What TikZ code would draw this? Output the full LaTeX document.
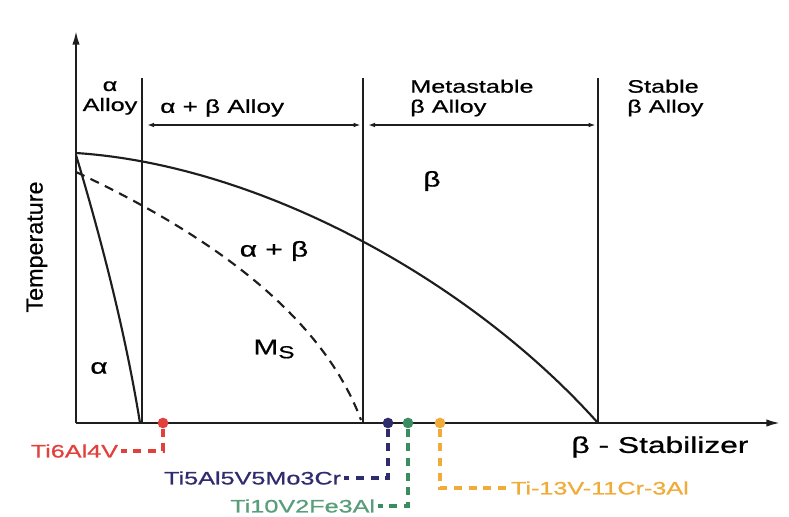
\documentclass[tikz,border=0pt]{standalone}
\usepackage{fontspec}
\setmainfont{Liberation Sans}[FakeStretch=1.4,FakeBold=0.8]
\newfontfamily\plainsans{Liberation Sans}[FakeBold=0.5]
\usetikzlibrary{arrows.meta,positioning}
\definecolor{ink}{HTML}{1E1E1E}
\definecolor{tisix}{HTML}{E2403A}
\definecolor{tifive}{HTML}{2E2C6E}
\definecolor{titen}{HTML}{3C8C62}
\definecolor{tithirteen}{HTML}{F0AC3A}

\begin{document}
\begin{tikzpicture}[
  x=0.75pt, y=-0.75pt,
  font=\fontsize{13.5}{15}\selectfont,
  axis/.style={-{Latex[length=11pt,width=5.5pt]}, draw=ink, line width=1.8pt},
  border/.style={draw=ink, line width=1.3pt},
  span/.style={{Latex[length=5pt,width=3.5pt]}-{Latex[length=5pt,width=3.5pt]}, draw=ink, line width=.9pt, shorten <=4pt, shorten >=2pt},
  phase/.style={draw=ink, line width=1.6pt},
  ms/.style={phase, dash pattern=on 7pt off 5pt},
  region/.style={font=\fontsize{16}{18}\selectfont, inner sep=0pt},
  dot/.style={circle, minimum size=8pt, inner sep=0pt},
  leader/.style={line width=2.4pt, dash pattern=on 6pt off 5pt},
  alloy/.style={inner sep=2pt, font=\fontsize{13.5}{15}\selectfont}
]
  \useasboundingbox (0,0) rectangle (789,517);

  \coordinate (origin) at (76,423);
  \coordinate (ytip) at (76,30);
  \coordinate (xtip) at (781,423);
  \coordinate (alphatop) at (142,78);
  \coordinate (alphabot) at (142,423);
  \coordinate (metatop) at (363,78);
  \coordinate (metabot) at (363,423);
  \coordinate (stabletop) at (598,78);
  \coordinate (stablebot) at (598,423);

  \draw[border] (alphabot) -- (alphatop);
  \draw[border] (metabot) -- (metatop);
  \draw[border] (stablebot) -- (stabletop);
  \draw[axis] (origin) -- (ytip);
  \draw[axis] (origin) -- (xtip);

  \coordinate (span1) at (142,125);
  \coordinate (span2) at (363,125);
  \coordinate (span3) at (598,125);
  \draw[span] (span1) -- (span2);
  \draw[span] (span2) -- (span3);

  \node[align=center, inner sep=0pt] (alphaalloy) at (110,98) {α\\Alloy};
  \node[anchor=west, inner sep=0pt, font=\fontsize{14}{16}\selectfont] (aballoy) at (160,108) {α + β Alloy};
  \node[align=left, anchor=west, inner sep=0pt] (metalloy) at (410,98) {Metastable\\β Alloy};
  \node[align=left, anchor=west, inner sep=0pt] (stalloy) at (627,98) {Stable\\β Alloy};

  % beta transus, alpha boundary, martensite start
  \coordinate (transus) at (76,153);
  \draw[phase] (transus) .. controls (260,165) and (470,280) .. (stablebot);
  \draw[phase] (76,155) .. controls (100,235) and (125,330) .. (140,423);
  \draw[ms] (76,172) .. controls (200,230) and (320,310) .. (361,420);

  \node[region] (beta) at (432,181) {β};
  \node[region] (alphabeta) at (274,251) {α + β};
  \node[region] (msstart) at (274,349) {M\raisebox{-.35ex}{\fontsize{13}{15}\selectfont S}};
  \node[region] (alpha) at (99,368) {α};

  \node[font=\plainsans\fontsize{17.5}{20}\selectfont, rotate=90] (temp) at (37,247) {Temperature};
  \node[font=\fontsize{17}{20}\selectfont, inner sep=0pt] (stab) at (660,447) {β - Stabilizer};

  \node[dot, fill=tisix] (d1) at (163,423) {};
  \node[dot, fill=tifive] (d2) at (388,423) {};
  \node[dot, fill=titen] (d3) at (408,423) {};
  \node[dot, fill=tithirteen] (d4) at (440,423) {};

  \node[alloy, text=tisix, anchor=east] (t1) at (121,451) {Ti6Al4V};
  \node[alloy, text=tifive, anchor=east] (t2) at (344,478) {Ti5Al5V5Mo3Cr};
  \node[alloy, text=titen!85!white, anchor=east] (t3) at (378,506) {Ti10V2Fe3Al};
  \node[alloy, text=tithirteen, anchor=west] (t4) at (508,488) {Ti-13V-11Cr-3Al};

  \draw[leader, tisix] (d1.south) |- (t1.east);
  \draw[leader, tifive] (d2.south) |- (t2.east);
  \draw[leader, titen] (d3.south) |- (t3.east);
  \draw[leader, tithirteen] (d4.south) |- (t4.west);
\end{tikzpicture}
\end{document}
